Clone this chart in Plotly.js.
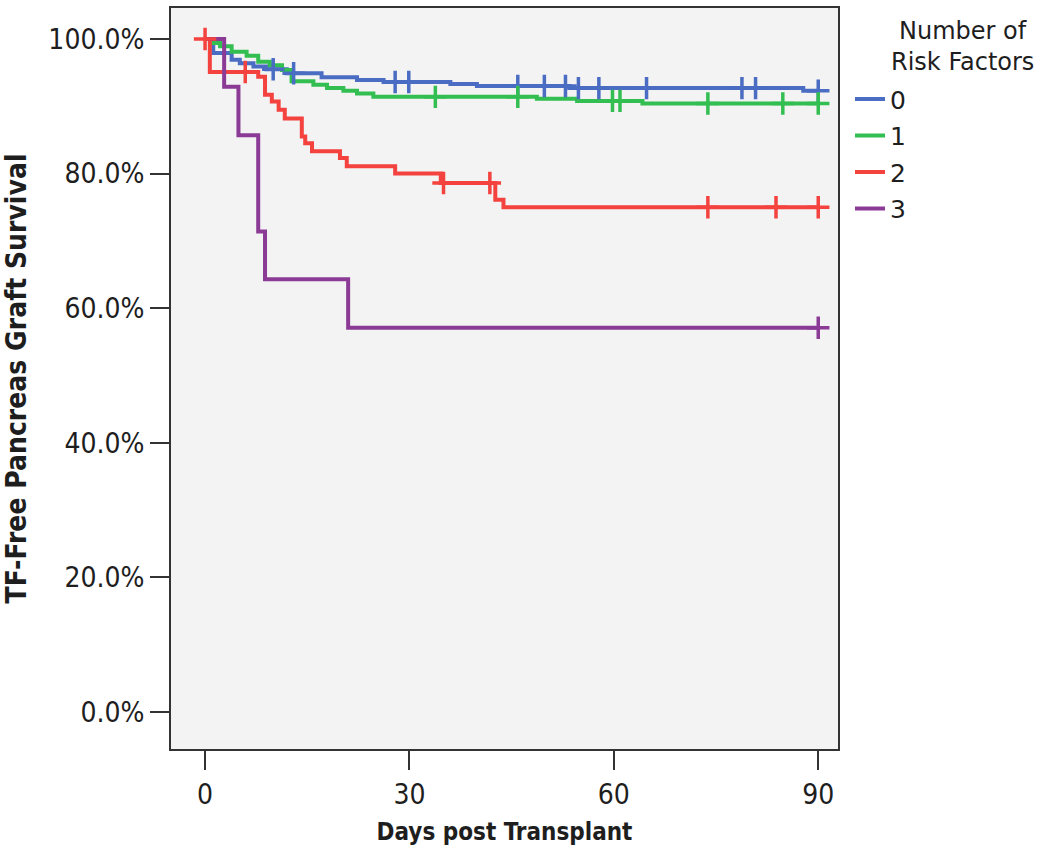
<!DOCTYPE html>
<html>
<head>
<meta charset="utf-8">
<script src="https://cdn.plot.ly/plotly-3.0.1.min.js"></script>
<style>html,body{margin:0;padding:0;background:#fff;}#chart{width:1050px;height:856px;}</style>
</head>
<body>
<div id="chart"></div>
<script>
// Series names
const seriesNames = ["0", "1", "2", "3"];
const seriesColors = ["#4a6cc3", "#33be52", "#f4433f", "#8b3b95"];
const legendTitle = "Number of<br>Risk Factors";

// Event (step) times in days and survival (%) after each step
const times0 = [0, 1.2, 3.9, 5.1, 7.1, 9, 12, 17.1, 22.3, 26.2, 36, 39.9, 53.5, 87.8];
const surv0  = [100, 97.9, 96.9, 96.4, 95.9, 95.5, 94.9, 94.3, 93.9, 93.6, 93.3, 93.0, 92.7, 92.3];
const times1 = [0, 1, 2.2, 3.9, 6.1, 7.8, 9.5, 11.3, 12.7, 15.9, 17.9, 20.3, 22.3, 24.7, 48.7, 54.6, 64.2];
const surv1  = [100, 99.4, 98.9, 98.1, 97.5, 96.6, 96.1, 95.4, 93.7, 93.2, 92.7, 92.3, 91.9, 91.4, 91.1, 90.8, 90.4];
const times2 = [0, 0.7, 7.8, 8.8, 9.8, 10.8, 11.7, 14.2, 14.7, 15.7, 19.8, 20.8, 27.9, 34.6, 42.6, 43.8];
const surv2  = [100, 95.1, 94.4, 91.7, 90.7, 89.5, 88.2, 85.5, 84.5, 83.3, 82.3, 81.1, 80.0, 78.6, 76.1, 75.0];
const times3 = [0, 2.8, 4.9, 7.8, 8.8, 21];
const surv3  = [100, 92.9, 85.7, 71.4, 64.3, 57.1];

// Censored observations (days, survival %)
const cens0T = [10, 13, 27.9, 29.9, 45.9, 49.8, 52.9, 54.8, 57.8, 64.8, 78.8, 80.8, 90];
const cens0S = [95.5, 94.9, 93.6, 93.6, 93.0, 93.0, 93.0, 92.7, 92.7, 92.7, 92.7, 92.7, 92.3];
const cens1T = [33.8, 45.9, 59.8, 60.9, 73.8, 84.8, 90];
const cens1S = [91.4, 91.4, 90.8, 90.8, 90.4, 90.4, 90.4];
const cens2T = [0, 5.9, 35, 41.8, 73.8, 83.8, 90];
const cens2S = [100, 95.1, 78.6, 78.6, 75.0, 75.0, 75.0];
const cens3T = [90];
const cens3S = [57.1];

const followUpEnd = 90;

// Axis ticks
const xTicks = [0, 30, 60, 90];
const yTicks = [0, 20, 40, 60, 80, 100];
const yTickLabels = ["0.0%", "20.0%", "40.0%", "60.0%", "80.0%", "100.0%"];

const allTimes = [times0, times1, times2, times3];
const allSurv = [surv0, surv1, surv2, surv3];
const allCensT = [cens0T, cens1T, cens2T, cens3T];
const allCensS = [cens0S, cens1S, cens2S, cens3S];

const FONT = "'DejaVu Sans Condensed', 'DejaVu Sans', sans-serif";
const LFONT = "'DejaVu Sans', sans-serif";
const TXT = "#1e1e1e";
const traces = [];
for (let i = 0; i < 4; i++) {
  const x = allTimes[i].slice();
  const y = allSurv[i].slice();
  x.push(followUpEnd);
  y.push(allSurv[i][allSurv[i].length - 1]);
  traces.push({
    x: x, y: y, type: "scatter", mode: "lines",
    line: {shape: "hv", color: seriesColors[i], width: 4},
    name: seriesNames[i], legendgroup: "g" + i, showlegend: true,
    hoverinfo: "skip"
  });
}
for (let i = 0; i < 4; i++) {
  traces.push({
    x: allCensT[i], y: allCensS[i], type: "scatter", mode: "markers",
    marker: {symbol: "cross-thin", size: 16, color: seriesColors[i],
             line: {color: seriesColors[i], width: 3.5}},
    legendgroup: "g" + i, showlegend: false, hoverinfo: "skip"
  });
}

const layout = {
  width: 1050, height: 856,
  margin: {l: 171, r: 212, t: 8, b: 107},
  paper_bgcolor: "#ffffff",
  plot_bgcolor: "#f3f3f3",
  font: {family: FONT, size: 28, color: TXT},
  showlegend: true,
  legend: {
    x: 1.018, xanchor: "left", y: 0.908, yanchor: "top",
    bgcolor: "rgba(0,0,0,0)",
    font: {family: LFONT, size: 25, color: TXT},
    tracegroupgap: 1,
    itemwidth: 30
  },
  annotations: [{
    text: legendTitle, xref: "paper", yref: "paper",
    x: 1.187, y: 0.948, xanchor: "center", yanchor: "middle",
    showarrow: false, align: "center",
    font: {family: LFONT, size: 24, color: TXT}
  }],
  xaxis: {
    range: [-5, 92.9], tickvals: xTicks, ticktext: xTicks.map(String),
    ticks: "outside", ticklen: 19, tickwidth: 2, tickcolor: "#333",
    showline: true, linecolor: "#333", linewidth: 2, mirror: true,
    showgrid: false, zeroline: false,
    tickfont: {family: FONT, size: 28, color: TXT},
    title: {text: "<b>Days post Transplant</b>", font: {family: FONT, size: 24, color: TXT}, standoff: 14}
  },
  yaxis: {
    range: [-5.5, 104.6], tickvals: yTicks, ticktext: yTickLabels,
    ticks: "outside", ticklen: 19, tickwidth: 2, tickcolor: "#333",
    showline: true, linecolor: "#333", linewidth: 2, mirror: true,
    showgrid: false, zeroline: false,
    tickfont: {family: FONT, size: 28, color: TXT},
    title: {text: "<b>TF-Free Pancreas Graft Survival</b>", font: {family: FONT, size: 28, color: TXT}, standoff: 20}
  }
};

Plotly.newPlot("chart", traces, layout, {displayModeBar: false, staticPlot: true});
</script>
</body>
</html>
